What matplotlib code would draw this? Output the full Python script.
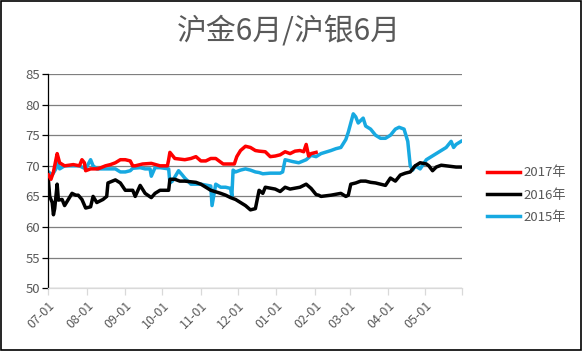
import numpy as np
import matplotlib
matplotlib.use("Agg")
import matplotlib.pyplot as plt

plt.rcParams["font.family"] = ["Noto Sans CJK SC", "DejaVu Sans"]

# ---- 数据: x 为距 07-01 的天数 ----
month_days = [0, 31, 62, 92, 123, 153, 184, 215, 243, 274, 304, 334]
month_labels = ["07-01", "08-01", "09-01", "10-01", "11-01", "12-01",
                "01-01", "02-01", "03-01", "04-01", "05-01", ""]

d2017 = [0, 2, 4, 6, 7, 9, 13, 20, 25, 27, 29, 30, 34, 40, 46, 50, 54, 58, 62, 66,
         68, 70, 76, 83, 90, 96, 97, 98, 102, 110, 115, 119, 123, 127, 131, 135,
         141, 145, 150, 152, 155, 159, 163, 167, 170, 175, 179, 183, 187, 191,
         195, 199, 203, 206, 208, 210, 212, 216]
v2017 = [68.5, 67.8, 69, 71, 72, 70.5, 70, 70.2, 70, 71, 70.5, 69.2, 69.5, 69.5,
         70, 70.2, 70.5, 71, 71, 70.8, 70, 70, 70.3, 70.4, 70, 70, 71, 72.2, 71.2,
         71, 71.2, 71.5, 70.8, 70.8, 71.2, 71.2, 70.3, 70.3, 70.3, 71.5, 72.5, 73.2,
         73, 72.5, 72.4, 72.3, 71.5, 71.6, 71.8, 72.3, 72, 72.4, 72.5, 72.3, 73.5,
         71.6, 72, 72.2]

d2016 = [0, 1, 3, 4, 5, 7, 8, 11, 13, 16, 19, 22, 24, 27, 30, 34, 36, 39, 44, 47,
         48, 54, 58, 62, 68, 70, 74, 78, 83, 86, 90, 97, 98, 102, 106, 110, 119,
         123, 131, 139, 143, 147, 151, 155, 159, 163, 167, 170, 173, 175, 183, 187,
         191, 195, 203, 208, 212, 216, 218, 220, 228, 236, 240, 242, 244, 248, 252,
         256, 260, 264, 268, 272, 276, 280, 284, 288, 292, 294, 296, 300, 305, 307,
         310, 313, 317, 321, 325, 329, 333]
v2016 = [67.5, 65, 64, 62, 63, 67, 64.4, 64.5, 63.5, 64.5, 65.5, 65.2, 65.2, 64.5,
         63.1, 63.3, 65, 64, 64.5, 65, 67.2, 67.7, 67.2, 66, 66, 65, 66.8, 65.5,
         64.8, 65.5, 66, 66, 67.8, 67.8, 67.5, 67.5, 67.3, 67, 66, 65.5, 65.2, 64.8,
         64.5, 64, 63.5, 62.8, 63, 66, 65.5, 66.5, 66.2, 65.8, 66.5, 66.2, 66.5, 67,
         66.3, 65.3, 65.2, 65, 65.2, 65.5, 65, 65.2, 67, 67.2, 67.5, 67.5, 67.3,
         67.2, 67, 66.8, 68, 67.5, 68.5, 68.8, 69, 69.5, 70, 70.5, 70.3, 70, 69.2,
         69.8, 70.1, 70, 69.9, 69.8, 69.8]

d2015 = [0, 3, 6, 7, 9, 13, 20, 25, 30, 34, 36, 39, 42, 46, 54, 58, 62, 66, 68, 74,
         78, 82, 83, 86, 90, 97, 98, 100, 105, 108, 110, 115, 123, 131, 132, 135,
         139, 143, 147, 148, 149, 151, 155, 159, 163, 167, 170, 173, 179, 187, 189,
         191, 195, 197, 202, 208, 212, 216, 220, 228, 232, 236, 240, 242, 246, 248,
         250, 254, 256, 260, 264, 268, 272, 276, 280, 283, 287, 290, 292, 294, 296,
         300, 305, 309, 313, 317, 321, 325, 327, 329, 333]
v2015 = [69, 68.5, 69.5, 71.3, 69.5, 70, 70, 70, 69.5, 71, 70, 69.5, 69.5, 69.5,
         69.5, 69, 69, 69.2, 69.6, 69.7, 69.5, 69.5, 68.3, 69.7, 69.7, 69.5, 67.2,
         67.5, 69.2, 68.5, 68, 67, 67, 66.7, 63.5, 67, 66.5, 66.5, 66.3, 65, 69.3,
         69, 69.3, 69.5, 69.3, 69, 68.9, 68.7, 68.8, 68.8, 69, 71, 70.8, 70.7, 70.5,
         71, 71.7, 71.5, 72, 72.5, 72.8, 73, 74.3, 75.5, 78.5, 78, 77, 77.8, 76.5,
         76, 75, 74.5, 74.5, 75, 76, 76.3, 76, 74, 70, 69.3, 70, 69.5, 71, 71.5, 72,
         72.5, 73, 74, 73, 73.5, 74]

y_ticks = [50, 55, 60, 65, 70, 75, 80, 85]

# ---- 绘图 ----
fig = plt.figure(figsize=(5.82, 3.51), dpi=100)
ax = fig.add_axes([0.0833, 0.179, 0.711, 0.61])

ax.plot(d2017, v2017, color="#ff0000", lw=2.5, label="2017年", zorder=4)
ax.plot(d2016, v2016, color="#000000", lw=2.5, label="2016年", zorder=3)
ax.plot(d2015, v2015, color="#17a9e1", lw=2.5, label="2015年", zorder=2)

ax.set_xlim(0, 334)
ax.set_ylim(50, 85)
ax.set_yticks(y_ticks)
ax.set_xticks(month_days)
ax.set_xticklabels(month_labels, rotation=45, ha="right", rotation_mode="anchor")
ax.grid(axis="y", color="#7f7f7f", lw=0.9)
ax.set_axisbelow(True)

for s in ["top", "right"]:
    ax.spines[s].set_visible(False)
ax.spines["left"].set_color("#000000")
ax.spines["left"].set_linewidth(0.9)
ax.spines["bottom"].set_color("#d9d9d9")
ax.spines["bottom"].set_linewidth(0.9)
ax.tick_params(axis="y", colors="#000000", labelcolor="#595959", labelsize=9.5,
               length=4, width=0.9, pad=2)
ax.tick_params(axis="x", colors="#d9d9d9", labelcolor="#595959", labelsize=9,
               length=5, width=0.9, pad=3)

fig.text(0.497, 0.912, "沪金6月/沪银6月", ha="center", va="center",
         fontsize=21.5, color="#595959")

leg = ax.legend(loc="center left", bbox_to_anchor=(1.03, 0.435), frameon=False,
                fontsize=9.5, handlelength=2.5, labelspacing=0.7,
                handletextpad=0.3)
for t in leg.get_texts():
    t.set_color("#595959")

# 外框
fig.add_artist(plt.Rectangle((0.001, 0.002), 0.997, 0.995, transform=fig.transFigure,
                             fill=False, ec="#000000", lw=1.2))

fig.savefig("out.png", dpi=100)
